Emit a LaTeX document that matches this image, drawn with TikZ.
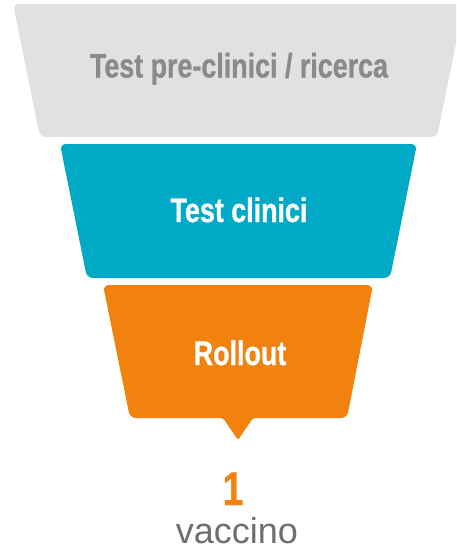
\documentclass[tikz,border=0pt]{standalone}
\usepackage{fontspec}
\setmainfont{Liberation Sans}
\newfontfamily\narrowsans[FakeStretch=0.79,FakeBold=0.8]{Liberation Sans}
\usepackage{tikz}
\usetikzlibrary{positioning}

\definecolor{stepgray}{HTML}{E1E1E1}
\definecolor{stepgraytext}{HTML}{8A8A8A}
\definecolor{stepteal}{HTML}{00AAC7}
\definecolor{steporange}{HTML}{F0820D}
\definecolor{countgray}{HTML}{6E6E6E}

\tikzset{
  steplabel/.style={anchor=base,inner sep=0pt,
                    font=\narrowsans\bfseries\fontsize{34}{38}\selectfont},
}

\begin{document}
\begin{tikzpicture}[x=1pt,y=-1pt]
          \useasboundingbox(0,0)rectangle(456,549);
          \clip(0,0)rectangle(456,549);
          % funnel steps, widest on top
          \fill[stepgray,rounded corners=6pt]  (13,4)--(464,4)--(437,137)--(40,137)--cycle;
          \fill[stepteal,rounded corners=6pt]  (60,144)--(417,144)--(390,278)--(87,278)--cycle;
          \fill[steporange,rounded corners=6pt](103,285)--(373,285)--(347,418)
                [rounded corners=2pt]--(253,418)--(238,440)--(223,418)
                [rounded corners=6pt]--(130,418)--cycle;
          \node[steplabel,text=stepgraytext](research)at(239,77.5){Test pre-clinici / ricerca};
          \node[steplabel,text=white](clinical)at(239,222){Test clinici};
          \node[steplabel,text=white](rollout)at(240,365){Rollout};
          % outcome below the funnel
          \node[anchor=base,inner sep=0pt,text=steporange,
                font=\narrowsans\bfseries\fontsize{47}{50}\selectfont](count)at(233,505){1};
          \node[anchor=base,inner sep=0pt,text=countgray,
                font=\fontsize{36}{40}\selectfont](vaccine)at(237,543){vaccino};
        \end{tikzpicture}
\end{document}
